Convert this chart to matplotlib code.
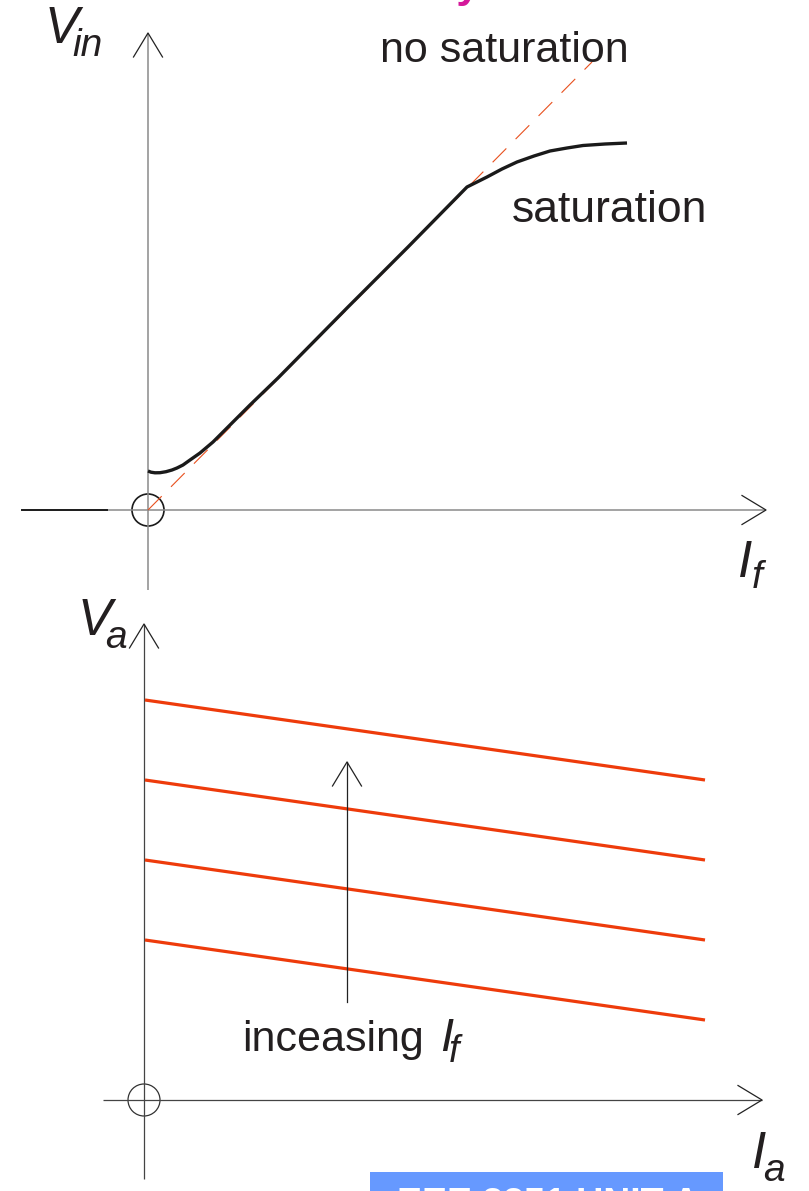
import matplotlib
matplotlib.use("Agg")
import matplotlib.pyplot as plt
from matplotlib.patches import Circle, Rectangle

plt.rcParams['font.family'] = ['Liberation Sans', 'DejaVu Sans']
plt.rcParams['lines.scale_dashes'] = False

# --- data: top panel (open-circuit characteristic), units arbitrary ---
if_curve = [0.00, 0.03, 0.07, 0.12, 0.18, 0.24, 0.29, 0.35, 0.42, 0.52,
            0.65, 0.82, 1.02, 1.30, 2.00, 2.60, 3.19,
            3.29, 3.39, 3.54, 3.69, 3.86, 4.02, 4.19, 4.35, 4.57, 4.79]
vin_curve = [0.39, 0.378, 0.372, 0.373, 0.383, 0.40, 0.42, 0.45, 0.50, 0.57,
             0.68, 0.85, 1.05, 1.32, 2.03, 2.63, 3.23,
             3.28, 3.33, 3.41, 3.48, 3.54, 3.59, 3.62, 3.645, 3.66, 3.67]
if_nosat = [0.0, 4.44]
vin_nosat = [0.0, 4.48]
if_negative = [-1.26, -0.41]
vin_negative = [0.0, 0.0]

# --- data: bottom panel (load characteristics for several field currents) ---
ia_line = [0.01, 5.61]
va_start = [1.6, 2.4, 3.2, 4.0]
va_end = [0.8, 1.6, 2.4, 3.2]

W, H = 809, 1191
fig = plt.figure(figsize=(W / 100, H / 100), dpi=100)

# both panels share the full figure; 1 data unit = 100 px
top = fig.add_axes([0, 0, 1, 1])
top.set_xlim(-148 / 100, (W - 148) / 100)
top.set_ylim((510 - H) / 100, 510 / 100)
bot = fig.add_axes([0, 0, 1, 1])
bot.set_xlim(-144 / 100, (W - 144) / 100)
bot.set_ylim((1100 - H) / 100, 1100 / 100)
for ax in (top, bot):
    ax.axis('off')
    ax.patch.set_alpha(0)

head_len, head_w = 0.24, 0.145


def axis_arrows(ax, x0, x1, y0, y1, color, lw):
    ax.plot([x0, x1], [0, 0], color=color, lw=lw, solid_capstyle='butt')
    ax.plot([0, 0], [y0, y1], color=color, lw=lw, solid_capstyle='butt')
    ax.plot([x1 - head_len, x1, x1 - head_len], [head_w, 0, -head_w],
            color='#222222', lw=0.9)
    ax.plot([-head_w, 0, head_w], [y1 - head_len, y1, y1 - head_len],
            color='#222222', lw=0.9)


# ---------------- top panel ----------------
axis_arrows(top, -0.41, 6.18, -0.80, 4.77, '#8a8a8a', 1.1)
top.plot(if_negative, vin_negative, color='#1a1a1a', lw=1.4)
top.plot(if_nosat, vin_nosat, color='#e8501e', lw=0.8, dashes=(14, 9.5))
top.plot(if_curve, vin_curve, color='#1a1a1a', lw=2.4,
         solid_joinstyle='round', solid_capstyle='butt')
top.add_patch(Circle((0, 0), 0.16, fill=False, ec='#1a1a1a', lw=1.2))

top.text(2.32, 4.48, 'no saturation', fontsize=31, color='#231f20',
         ha='left', va='baseline')
top.text(3.64, 2.88, 'saturation', fontsize=32, color='#231f20',
         ha='left', va='baseline')

top.text(-1.03, 4.67, 'V', fontsize=37, style='italic', color='#231f20',
         ha='left', va='baseline')
top.text(-0.76, 4.54, 'in', fontsize=28, style='italic', color='#231f20',
         ha='left', va='baseline')
top.text(5.90, -0.67, 'I', fontsize=37, style='italic', color='#231f20',
         ha='left', va='baseline')
top.text(6.04, -0.78, 'f', fontsize=28, style='italic', color='#231f20',
         ha='left', va='baseline')

# title cut off at the top edge
top.text(3.32, 5.13, 'by', fontsize=31, fontweight='bold',
         color='#d4189a', ha='right', va='baseline')
top.text(3.62, 5.12, 'f', fontsize=26, style='italic', fontweight='bold',
         color='#d4189a', ha='left', va='baseline')

# ---------------- bottom panel ----------------
axis_arrows(bot, -0.41, 6.18, -0.79, 4.76, '#444444', 0.9)
for v0, v1 in zip(va_start, va_end):
    bot.plot(ia_line, [v0, v1], color='#ee3b0b', lw=2.3,
             solid_capstyle='butt')
bot.add_patch(Circle((0, 0), 0.16, fill=False, ec='#333333', lw=0.9))

# arrow for increasing field current
bot.plot([2.03, 2.03], [0.98, 3.38], color='#222222', lw=0.9)
bot.plot([2.03 - head_w, 2.03, 2.03 + head_w],
         [3.38 - head_len, 3.38, 3.38 - head_len], color='#222222', lw=0.9)
bot.text(0.98, 0.49, 'inceasing', fontsize=31, color='#231f20',
         ha='left', va='baseline')
bot.text(2.96, 0.49, 'I', fontsize=34, style='italic', color='#231f20',
         ha='left', va='baseline')
bot.text(3.05, 0.38, 'f', fontsize=27, style='italic', color='#231f20',
         ha='left', va='baseline')

bot.text(-0.66, 4.65, 'V', fontsize=37, style='italic', color='#231f20',
         ha='left', va='baseline')
bot.text(-0.39, 4.52, 'a', fontsize=28, style='italic', color='#231f20',
         ha='left', va='baseline')
bot.text(6.08, -0.68, 'I', fontsize=37, style='italic', color='#231f20',
         ha='left', va='baseline')
bot.text(6.19, -0.81, 'a', fontsize=28, style='italic', color='#231f20',
         ha='left', va='baseline')

# blue banner cut off at the bottom edge
bot.add_patch(Rectangle((2.26, -1.2), 3.53, 0.48, color='#6699ff', lw=0))
bot.text(2.53, -1.15, 'EEE 3351 UNIT A', fontsize=27, fontweight='bold',
         color='white', ha='left', va='baseline')

fig.savefig('out.png', dpi=100)
